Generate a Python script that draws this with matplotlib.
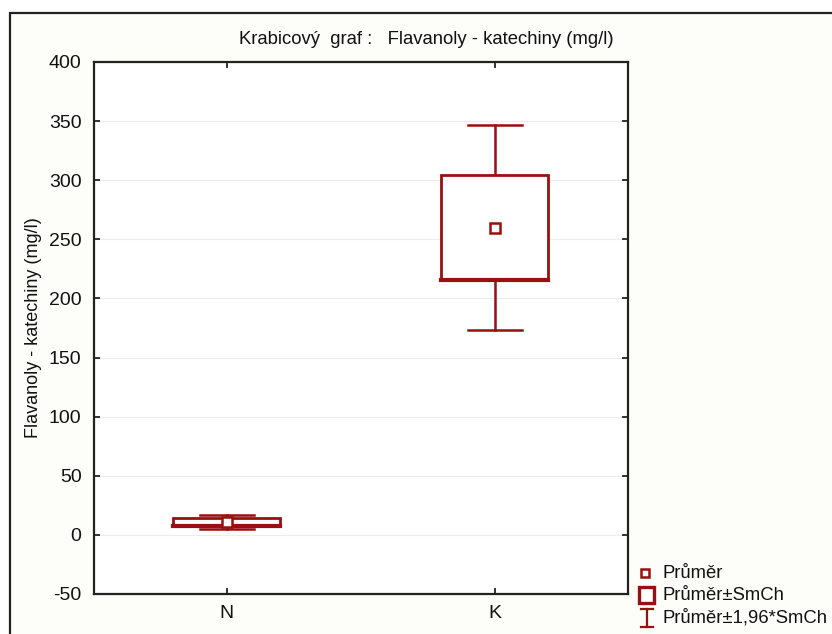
import matplotlib
matplotlib.use("Agg")
import matplotlib.pyplot as plt
from matplotlib.patches import Rectangle
from matplotlib.lines import Line2D
from matplotlib import font_manager as fm

# ---- data -------------------------------------------------------------
groups = ["N", "K"]
means = [11.0, 260.0]          # Průměr
std_errs = [3.1, 44.4]         # SmCh
z_factor = 1.96                # Průměr ± 1,96*SmCh
y_ticks = [-50, 0, 50, 100, 150, 200, 250, 300, 350, 400]

title_text = "Krabicový  graf :   Flavanoly - katechiny (mg/l)"
y_label = "Flavanoly - katechiny (mg/l)"
legend_labels = ["Průměr", "Průměr±SmCh", "Průměr±1,96*SmCh"]

# ---- style ------------------------------------------------------------
RED = "#9a0f0f"
names = {f.name for f in fm.fontManager.ttflist}
base_font = "Liberation Sans" if "Liberation Sans" in names else "DejaVu Sans"
narrow_font = "Liberation Sans Narrow" if "Liberation Sans Narrow" in names else base_font
plt.rcParams["font.family"] = [base_font, "DejaVu Sans"]
plt.rcParams["axes.unicode_minus"] = False

W, H = 832, 634
fig = plt.figure(figsize=(W / 100, H / 100), dpi=100, facecolor="white")

def fx(px):
    return px / W

def fy(py):
    return 1 - py / H

# outer frame of the graph window
fig.add_artist(Rectangle((fx(10), fy(700)), fx(900), fy(13) - fy(700),
                         transform=fig.transFigure, facecolor="#fdfdf9",
                         edgecolor="#222222", linewidth=1.6, zorder=0))

ax = fig.add_axes([fx(94), fy(594), fx(628) - fx(94), fy(62) - fy(594)])
ax.set_facecolor("white")
ax.set_zorder(1)

positions = list(range(1, len(groups) + 1))
box_w = 0.4
cap_w = 0.2
for x, m, se in zip(positions, means, std_errs):
    lo_w, hi_w = m - z_factor * se, m + z_factor * se
    # whiskers (mean ± 1.96*SE)
    ax.plot([x, x], [m + se, hi_w], color=RED, lw=1.8, zorder=3)
    ax.plot([x, x], [lo_w, m - se], color=RED, lw=1.8, zorder=3)
    ax.plot([x - cap_w / 2, x + cap_w / 2], [hi_w, hi_w], color=RED, lw=1.8, zorder=3)
    ax.plot([x - cap_w / 2, x + cap_w / 2], [lo_w, lo_w], color=RED, lw=1.8, zorder=3)
    # box (mean ± SE)
    ax.add_patch(Rectangle((x - box_w / 2, m - se), box_w, 2 * se,
                           facecolor="white", edgecolor=RED, lw=2.0, zorder=4))
    ax.plot([x - box_w / 2, x + box_w / 2], [m - se, m - se], color=RED, lw=3.0, zorder=5)
    # mean marker
    ax.plot([x], [m], marker="s", ms=6.5, mfc="white", mec=RED, mew=1.8, zorder=6)

ax.set_xlim(0.505, 2.497)
ax.set_ylim(-50, 400)
ax.set_yticks(y_ticks)
ax.set_xticks(positions)
ax.set_xticklabels(groups)
ax.yaxis.grid(True, color="#ececec", lw=0.8)
ax.set_axisbelow(True)
ax.tick_params(direction="in", length=4, width=1.2, top=True, right=True,
               labelsize=14, colors="#111111")
ax.tick_params(axis="y", pad=9)
ax.tick_params(axis="x", pad=8)
for s in ax.spines.values():
    s.set_linewidth(1.6)
    s.set_color("#222222")

ax.set_ylabel(y_label, family=[narrow_font, "DejaVu Sans"], fontsize=13,
              labelpad=5, color="#111111")
fig.text(fx(426), fy(39), title_text, ha="center", va="center",
         family=[narrow_font, "DejaVu Sans"], fontsize=13.3, color="#111111")

# legend
rows = [573, 595, 618]
fig.add_artist(Line2D([fx(645)], [fy(rows[0])], marker="s", ms=6, mfc="white",
                      mec=RED, mew=1.8, transform=fig.transFigure))
fig.add_artist(Rectangle((fx(639), fy(rows[1] + 8)), fx(15), fy(rows[1] - 8) - fy(rows[1] + 8),
                         transform=fig.transFigure, facecolor="white",
                         edgecolor=RED, lw=2.4))
fig.add_artist(Line2D([fx(647), fx(647)], [fy(rows[2] - 9), fy(rows[2] + 9)],
                      color=RED, lw=1.6, transform=fig.transFigure))
fig.add_artist(Line2D([fx(641), fx(653)], [fy(rows[2] - 9), fy(rows[2] - 9)],
                      color=RED, lw=1.6, transform=fig.transFigure))
fig.add_artist(Line2D([fx(641), fx(653)], [fy(rows[2] + 9), fy(rows[2] + 9)],
                      color=RED, lw=1.6, transform=fig.transFigure))
for r, lab in zip(rows, legend_labels):
    fig.text(fx(662), fy(r), lab, ha="left", va="center", fontsize=13.3, color="#111111")

fig.savefig("out.png", dpi=100, facecolor=fig.get_facecolor())
